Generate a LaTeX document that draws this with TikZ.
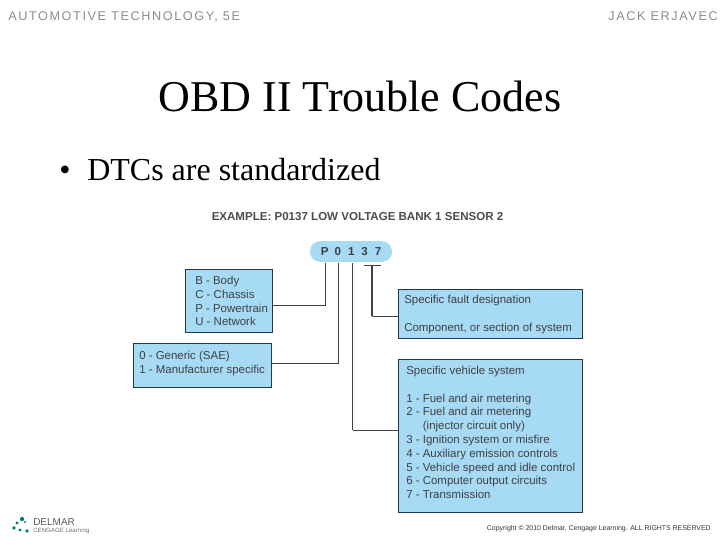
\documentclass[tikz,border=0pt]{standalone}
\usepackage{fontspec}
\setmainfont{Liberation Serif}
\setsansfont{Liberation Sans}
\definecolor{boxblue}{HTML}{A6DAF5}
\definecolor{boxline}{HTML}{1F3A4A}
\definecolor{headgray}{HTML}{8C8C8C}
\tikzset{
  infobox/.style={draw=boxline, line width=1pt, fill=boxblue, inner sep=0pt, anchor=north west},
  infotext/.style={font=\sffamily\fontsize{8.6}{10.35}\selectfont, text=black!75, align=left, anchor=north west, inner sep=0pt},
  lead/.style={draw=black!75, line width=0.7pt},
  headtext/.style={font=\sffamily\fontsize{9.5}{11}\selectfont\addfontfeature{LetterSpace=12.6}, text=headgray, inner sep=0pt}
}
\begin{document}
\begin{tikzpicture}[x=0.75pt, y=-0.75pt]
	 \useasboundingbox (0,0) rectangle (720,540);
	 \node (book) [headtext, anchor=west] at (8,17) {AUTOMOTIVE TECHNOLOGY, 5E};
	 \node (writer) [headtext, anchor=east] at (718,16) {JACK ERJAVEC};
	 \node (title) [font=\fontsize{33}{38}\selectfont] at (360,96) {OBD II Trouble Codes};
	 \node (bullet) [font=\fontsize{24}{28}\selectfont, anchor=base west, inner sep=0pt] at (59,180) {•};
	 \node (point) [font=\fontsize{24}{28}\selectfont, anchor=base west, inner sep=0pt] at (87,180) {DTCs are standardized};
	 \node (example) [font=\sffamily\bfseries\fontsize{8.66}{10}\selectfont, text=black!70, inner sep=0pt] at (357.5,217) {EXAMPLE: P0137 LOW VOLTAGE BANK 1 SENSOR 2};

	 \node (code) [fill=boxblue, rounded corners=7.5pt, minimum width=61.5pt, minimum height=15.5pt, inner sep=0pt,
	   font=\sffamily\bfseries\fontsize{8.7}{10}\selectfont, text=black!75] at (351,251.5) {P\hspace{4.6pt}0\hspace{5.2pt}1\hspace{5.2pt}3\hspace{5.2pt}7};

	 \node (letter) [infobox, minimum width=65pt, minimum height=47pt] at (185,269) {};
	 \node (origin) [infobox, minimum width=103.5pt, minimum height=33pt] at (133,343) {};
	 \node (fault) [infobox, minimum width=138pt, minimum height=36.5pt] at (398,289) {};
	 \node (system) [infobox, minimum width=138pt, minimum height=114.5pt] at (398,359) {};

	 \node (lettertext) [infotext] at (195,276) {B - Body\\C - Chassis\\P - Powertrain\\U - Network};
	 \node (origintext) [infotext] at (139,351) {0 - Generic (SAE)\\1 - Manufacturer specific};
	 \node (faulttext) [infotext] at (404,295) {Specific fault designation\\[10.35pt]Component, or section of system};
	 \node (systemtext) [infotext] at (406,366) {Specific vehicle system\\[10.35pt]1 - Fuel and air metering\\2 - Fuel and air metering\\
	   \hspace{1.45em}(injector circuit only)\\3 - Ignition system or misfire\\4 - Auxiliary emission controls\\
	   5 - Vehicle speed and idle control\\6 - Computer output circuits\\7 - Transmission};

	 \coordinate (pdigit) at (325,263);
	 \coordinate (zerodigit) at (338.5,263);
	 \coordinate (onedigit) at (352.5,263);
	 \coordinate (teeleft) at (364,265.5);
	 \coordinate (teeright) at (381,265.5);
	 \coordinate (teemid) at (372,265.5);

	 \draw[lead] (pdigit) |- (letter.east |- 0,305);
	 \draw[lead] (zerodigit) |- (origin.east |- 0,363);
	 \draw[lead, line width=0.5pt] (onedigit) -- (onedigit |- 0,430);
	 \draw[lead] (onedigit |- 0,430) -- (system.west |- 0,430);
	 \draw[lead, line width=0.5pt] (teeleft) -- (teeright);
	 \draw[lead, line width=1.1pt] (teemid) -- (teemid |- 0,316);
	 \draw[lead, line width=0.5pt] (teemid |- 0,316) -- (fault.west |- 0,316);

	 % logo
	 \foreach \px/\py/\pr in {22/519/1.6, 17/523/1.3, 14/528/1.4, 20/530/1.2, 27/531/1.4, 25/522/0.8}
	   \fill[teal!60!cyan!70!black] (\px,\py) circle (\pr pt);
	 \node (delmar) [font=\sffamily\fontsize{7.5}{9}\selectfont, text=black!65, anchor=west, inner sep=0pt] at (33,522) {DELMAR};
	 \node (cengage) [font=\sffamily\fontsize{4.6}{6}\selectfont, text=black!55, anchor=west, inner sep=0pt] at (33,531) {CENGAGE Learning};
	 \node (copy) [font=\sffamily\fontsize{5.2}{6}\selectfont, text=black!80, anchor=east, inner sep=0pt] at (711,529) {Copyright © 2010 Delmar, Cengage Learning. ALL RIGHTS RESERVED};
\end{tikzpicture}
\end{document}
